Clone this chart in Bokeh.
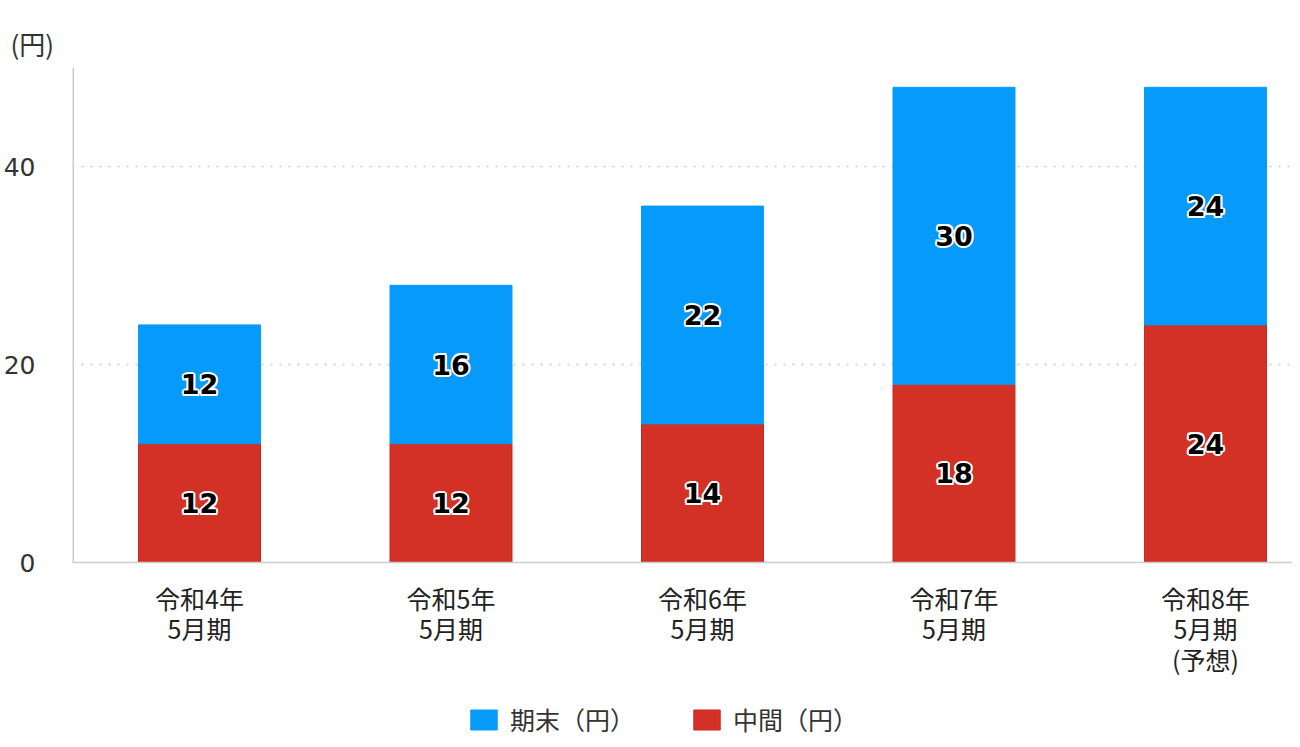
from bokeh.plotting import figure
from bokeh.models import ColumnDataSource, Legend, LegendItem, FixedTicker, Range1d, Span
from bokeh.core.properties import value
from bokeh.embed import file_html
from bokeh.resources import INLINE

# 配当（円）
periods = ["令和4年\n5月期", "令和5年\n5月期", "令和6年\n5月期", "令和7年\n5月期", "令和8年\n5月期\n(予想)"]
interim = [12, 12, 14, 18, 24]     # 中間
year_end = [12, 16, 22, 30, 24]    # 期末
y_ticks = [0, 20, 40]
y_max = 50

FONT = "Noto Sans CJK JP"
NUM_FONT = "DejaVu Sans"
BLUE = "#069BFA"
RED = "#D33126"

# plot area: 495px for 0..50, extended downward so the category labels and
# the legend live inside the frame
PX_PER_UNIT = 495 / y_max
FRAME_H = 670
y_start = y_max - FRAME_H / PX_PER_UNIT
x_start, x_end = -0.505, 4.346

xs = list(range(len(periods)))
totals = [a + b for a, b in zip(interim, year_end)]
src = ColumnDataSource(data=dict(
    x=xs,
    interim=interim,
    year_end=year_end,
    total=totals,
    zero=[0] * len(xs),
    interim_mid=[v / 2 for v in interim],
    end_mid=[a + b / 2 for a, b in zip(interim, year_end)],
    interim_txt=[str(v) for v in interim],
    end_txt=[str(v) for v in year_end],
    label=periods,
    label_y=[-17 / PX_PER_UNIT] * len(xs),
))

p = figure(frame_width=1220, frame_height=FRAME_H, output_backend="svg", toolbar_location=None,
           x_range=Range1d(x_start, x_end), y_range=Range1d(y_start, y_max),
           min_border_left=66, min_border_right=0, min_border_top=67, min_border_bottom=0)
p.outline_line_color = None

# grid
p.xgrid.grid_line_color = None
p.ygrid.ticker = FixedTicker(ticks=[t for t in y_ticks if t > 0])
p.ygrid.grid_line_color = "#c8c8c8"
p.ygrid.grid_line_dash = "2 7"
p.ygrid.grid_line_width = 1.5

r_red = p.vbar(x="x", bottom="zero", top="interim", width=0.485, source=src,
               fill_color=RED, line_color="#C8261C", line_width=1)
r_blue = p.vbar(x="x", bottom="interim", top="total", width=0.485, source=src,
                fill_color=BLUE, line_color=BLUE, line_width=1)

# axis lines
p.add_layout(Span(location=0, dimension="width", line_color="#cccccc", line_width=1.5))
p.segment(x0=[x_start], y0=[0], x1=[x_start], y1=[y_max], line_color="#cccccc", line_width=3)

# value labels: white halo, then black bold text on top
num_style = dict(source=src, text_align="center", text_baseline="middle",
                 text_font=value(NUM_FONT), text_font_style="bold", text_font_size="27px")
for ycol, tcol in [("interim_mid", "interim_txt"), ("end_mid", "end_txt")]:
    for dx, dy in [(-2, 0), (2, 0), (0, -2), (0, 2), (-1.5, -1.5), (1.5, -1.5), (-1.5, 1.5), (1.5, 1.5)]:
        p.text(x="x", y=ycol, text=tcol, x_offset=dx, y_offset=dy, text_color="white", **num_style)
    p.text(x="x", y=ycol, text=tcol, text_color="black", **num_style)

# category labels
p.text(x="x", y="label_y", text="label", source=src, text_align="center", text_baseline="top",
       text_font=value(FONT), text_font_size="25px", text_color="#222222", text_line_height=0.85)

# title "(円)"
p.title.text = "(円)"
p.title.align = "left"
p.title.offset = -62
p.title.text_font = FONT
p.title.text_font_size = "26px"
p.title.text_font_style = "normal"
p.title.text_color = "#333333"
p.title.standoff = 12

# axes
p.xaxis.visible = False
p.yaxis.ticker = FixedTicker(ticks=y_ticks)
p.yaxis.axis_line_color = None
p.yaxis.major_tick_line_color = None
p.yaxis.minor_tick_line_color = None
p.yaxis.major_label_text_font = NUM_FONT
p.yaxis.major_label_text_font_size = "25px"
p.yaxis.major_label_text_color = "#333333"
p.yaxis.major_label_standoff = 31

legend = Legend(items=[LegendItem(label="期末（円）", renderers=[r_blue]),
                       LegendItem(label="中間（円）", renderers=[r_red])],
                orientation="horizontal", location=(395, 0),
                label_text_font=FONT, label_text_font_size="25px", label_text_color="#333333",
                glyph_width=33, glyph_height=25, spacing=55, label_standoff=10,
                border_line_color=None, background_fill_alpha=0, margin=0, padding=0)
p.add_layout(legend)

open("out.html", "w").write(file_html(p, INLINE))
